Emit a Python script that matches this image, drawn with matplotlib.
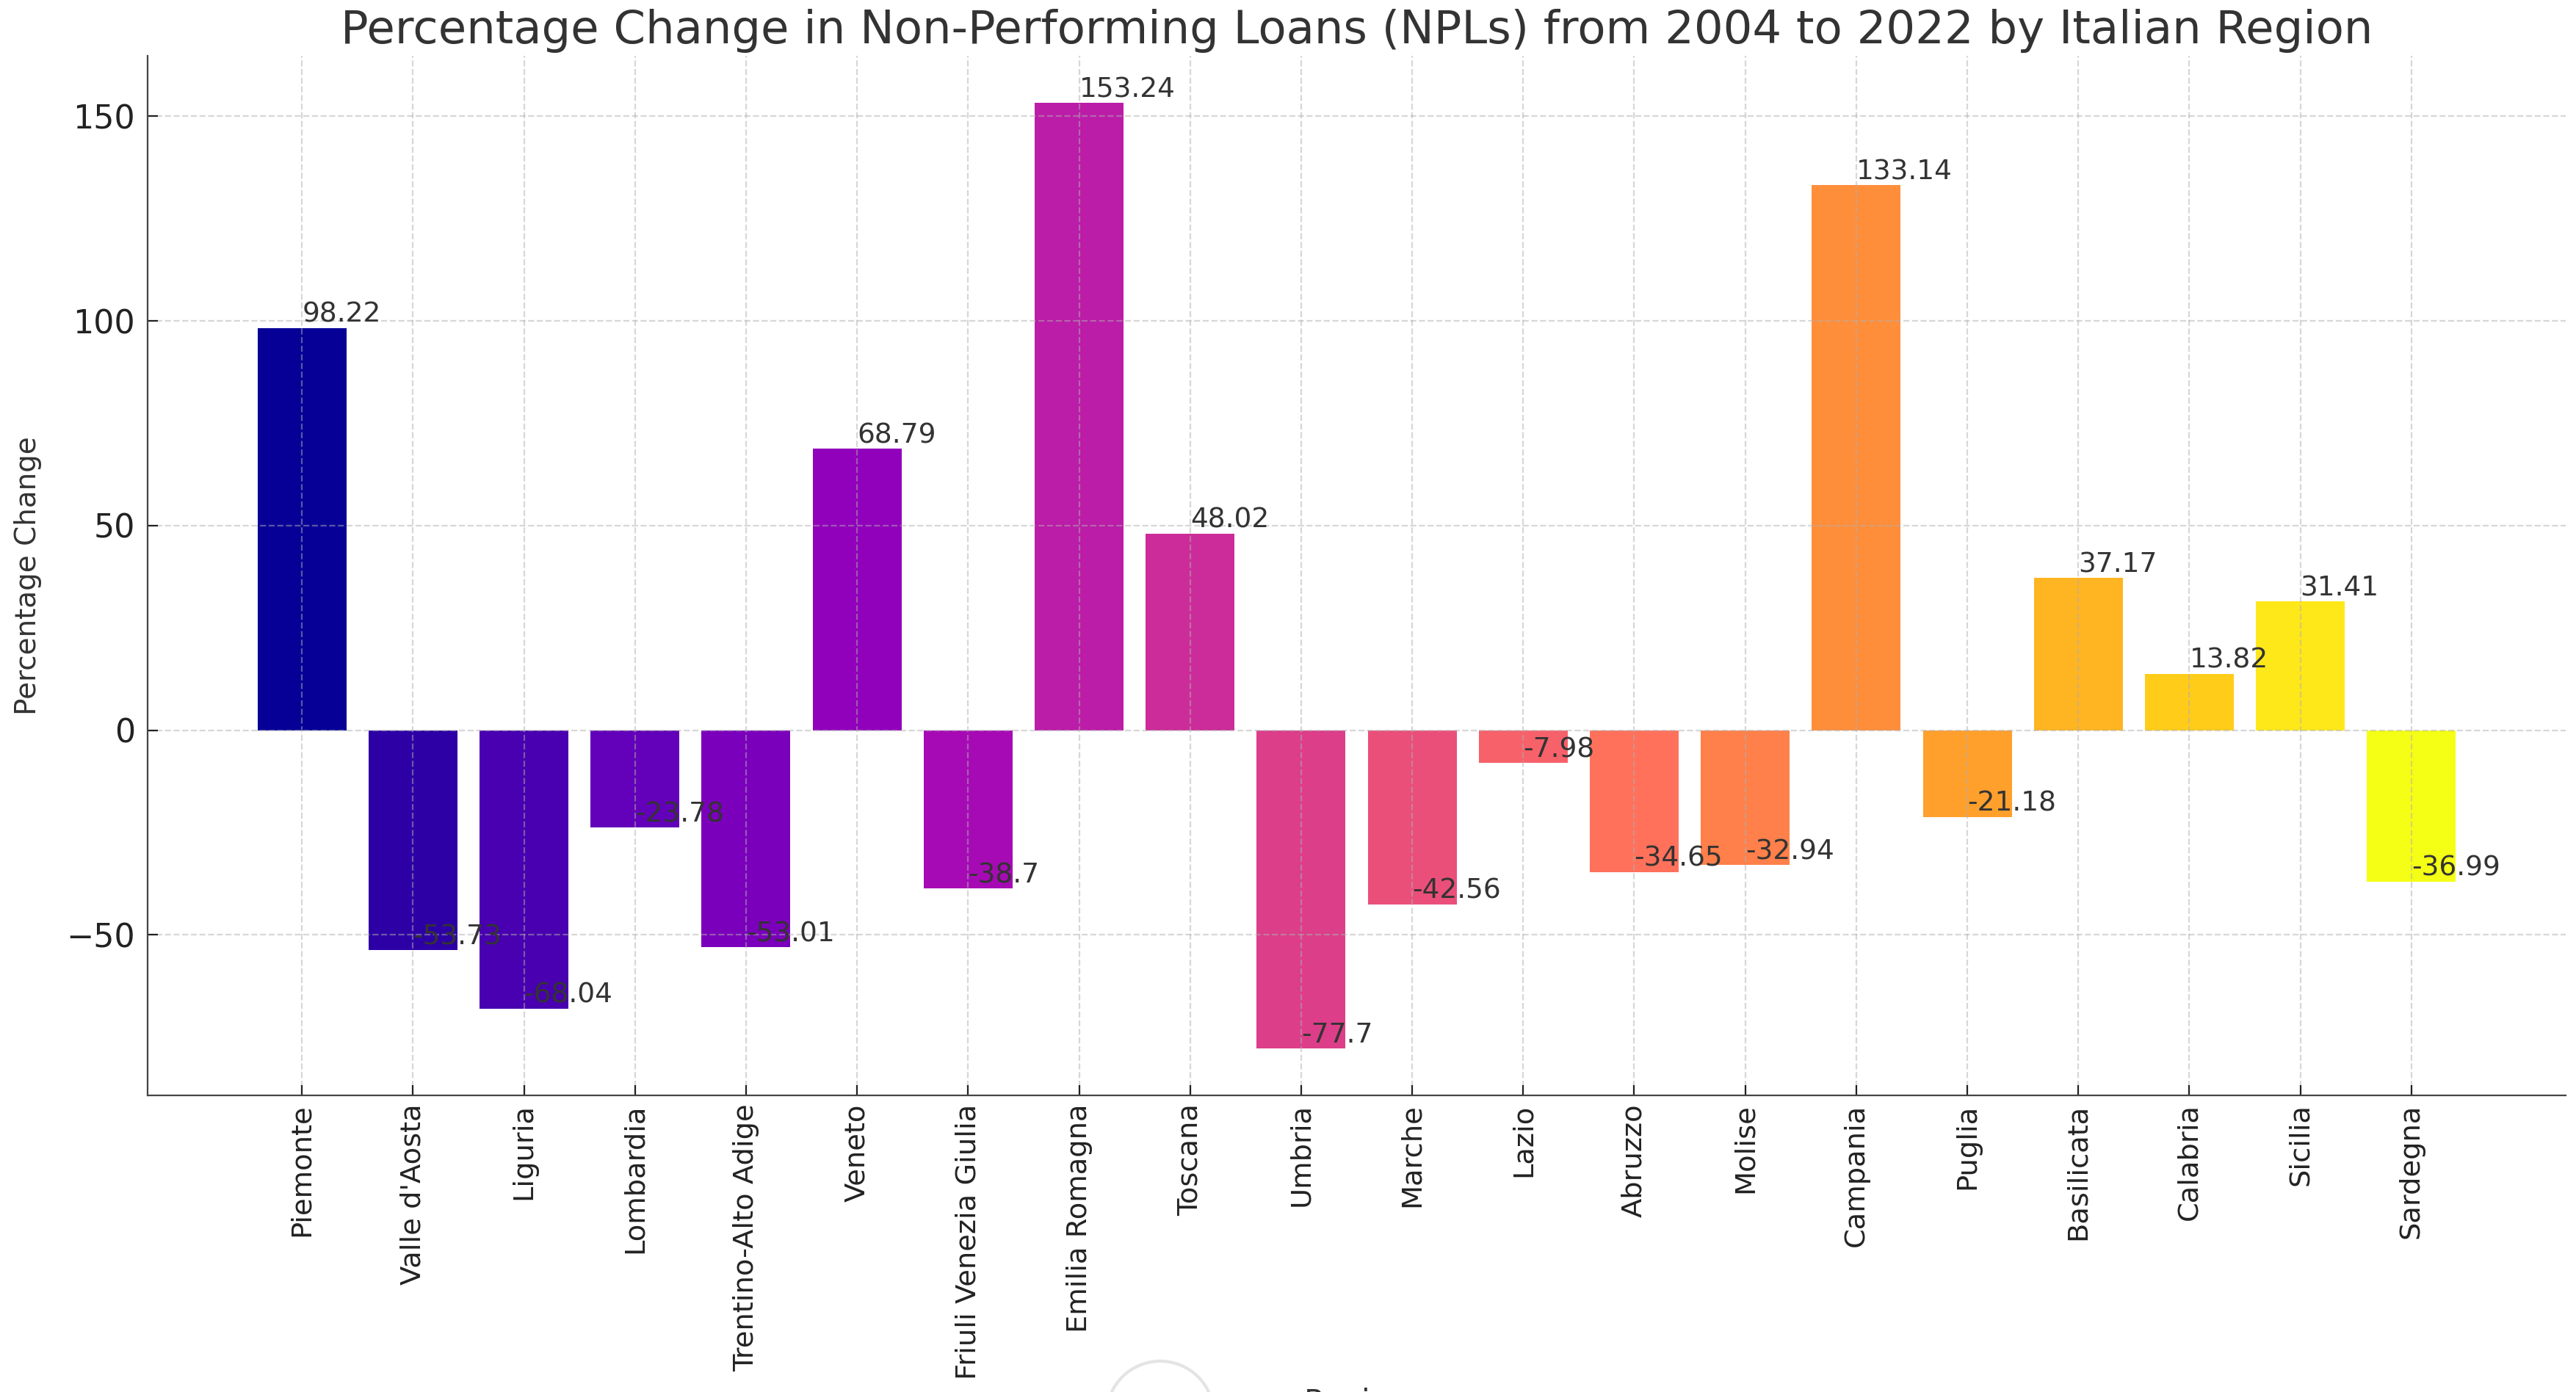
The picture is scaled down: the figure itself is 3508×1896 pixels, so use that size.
import numpy as np
import matplotlib
matplotlib.use("Agg")
from matplotlib import pyplot as plt
from matplotlib import colors as mcolors
from matplotlib.patches import Ellipse

regions = ["Piemonte", "Valle d'Aosta", "Liguria", "Lombardia", "Trentino-Alto Adige",
           "Veneto", "Friuli Venezia Giulia", "Emilia Romagna", "Toscana", "Umbria",
           "Marche", "Lazio", "Abruzzo", "Molise", "Campania", "Puglia", "Basilicata",
           "Calabria", "Sicilia", "Sardegna"]
pct_change = [98.22, -53.73, -68.04, -23.78, -53.01, 68.79, -38.7, 153.24, 48.02, -77.7,
              -42.56, -7.98, -34.65, -32.94, 133.14, -21.18, 37.17, 13.82, 31.41, -36.99]

fig = plt.figure(figsize=(17.54, 9.48), dpi=200)
ax = fig.add_axes([0.0573, 0.213, 0.9387, 0.747])

# plasma colours, a little brighter like the screenshot
cols = plt.cm.plasma(np.linspace(0, 1, len(regions)))[:, :3]
hsv = mcolors.rgb_to_hsv(cols)
hsv[:, 1] = np.clip(hsv[:, 1] * 1.06, 0, 1)
hsv[:, 2] = np.clip(hsv[:, 2] * 1.12, 0, 1)
cols = mcolors.hsv_to_rgb(hsv)

bars = ax.bar(regions, pct_change, color=cols)

# value labels at the end of each bar
for bar, v in zip(bars, pct_change):
    ax.text(bar.get_x() + bar.get_width() / 2, v, str(v),
            ha='left', va='bottom', fontsize=13.5, color='#333333')

ax.set_title("Percentage Change in Non-Performing Loans (NPLs) from 2004 to 2022 by Italian Region",
             fontsize=22.5, color='#333333')
ax.set_xlabel("Region", fontsize=15, color='#333333')
ax.set_ylabel("Percentage Change", fontsize=14, color='#333333', labelpad=12)

ax.grid(True, linestyle='--', alpha=0.5)
ax.spines['top'].set_visible(False)
ax.spines['right'].set_visible(False)
for s in ['left', 'bottom']:
    ax.spines[s].set_color('#444444')

ax.tick_params(axis='x', rotation=90, labelsize=13.8, direction='in', length=5, pad=4,
               colors='#222222')
ax.tick_params(axis='y', labelsize=16, direction='in', length=5, pad=6, colors='#222222')

# faint round button left over from the screenshot
fig.patches.append(Ellipse((1580 / 3508, 1 - 1927 / 1896), 146 / 3508, 146 / 1896,
                           transform=fig.transFigure, fill=False,
                           edgecolor='#e4e4e4', lw=1.5))

fig.savefig("out.png", dpi=200)
